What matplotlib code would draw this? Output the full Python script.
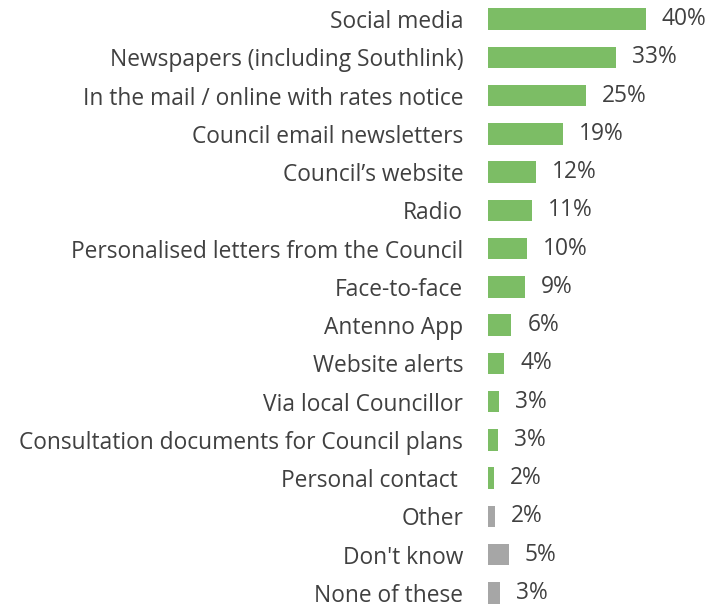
import matplotlib
matplotlib.use("Agg")
import matplotlib.pyplot as plt

categories = [
    "Social media",
    "Newspapers (including Southlink)",
    "In the mail / online with rates notice",
    "Council email newsletters",
    "Council\u2019s website",
    "Radio",
    "Personalised letters from the Council",
    "Face-to-face",
    "Antenno App",
    "Website alerts",
    "Via local Councillor",
    "Consultation documents for Council plans",
    "Personal contact ",
    "Other",
    "Don't know",
    "None of these",
]
values = [40, 32.4, 24.9, 19, 12.3, 11.2, 10, 9.4, 6, 4.2, 3, 2.7, 1.6, 1.8, 5.4, 3.1]
value_labels = ["40%", "33%", "25%", "19%", "12%", "11%", "10%", "9%", "6%", "4%",
                "3%", "3%", "2%", "2%", "5%", "3%"]
groups = ["main"] * 13 + ["other"] * 3

colors = {"main": "#7CBD65", "other": "#A6A6A6"}
text_color = "#404040"
font = "Open Sans"
fs = 16.4

fig = plt.figure(figsize=(7.23, 6.08), dpi=100)
ax = fig.add_axes([0.6743, -0.0068, 0.2739, 1.007])
y = list(range(len(categories)))
ax.barh(y, values, height=0.56, color=[colors[g] for g in groups])
for yi, v, lab in zip(y, values, value_labels):
    ax.annotate(lab, (v, yi), xytext=(11.5, 0), textcoords="offset points",
                va="center", ha="left", fontsize=fs, color=text_color, family=font)
ax.set_ylim(15.5, -0.5)
ax.set_xlim(0, 50)
ax.set_yticks(y)
ax.set_yticklabels(categories, fontsize=fs, color=text_color, family=font)
ax.tick_params(axis="y", length=0, pad=17.5)
ax.set_xticks([])
for s in ax.spines.values():
    s.set_visible(False)
fig.savefig("out.png", dpi=100)
